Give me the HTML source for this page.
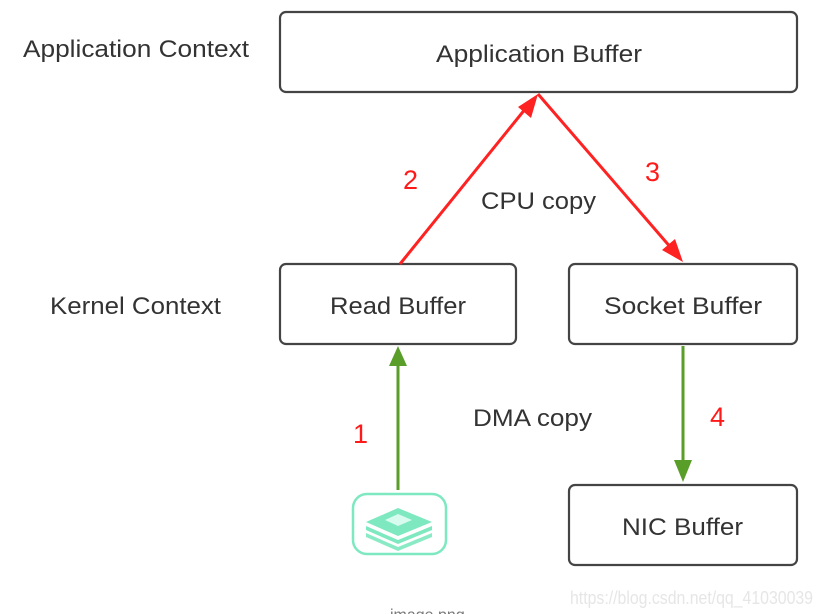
<!DOCTYPE html>
<html><head><meta charset="utf-8"><style>
html,body{margin:0;padding:0;background:#fff;}
svg{display:block}
text{font-family:"Liberation Sans",sans-serif;}
</style></head><body>
<svg width="822" height="614" viewBox="0 0 822 614" xmlns="http://www.w3.org/2000/svg">
<rect width="822" height="614" fill="#fff"/>
<g fill="none" stroke="#444" stroke-width="2.2">
<rect x="280" y="12" width="517" height="80" rx="6"/>
<rect x="280" y="264" width="236" height="80" rx="6"/>
<rect x="569" y="264" width="228" height="80" rx="6"/>
<rect x="569" y="485" width="228" height="80" rx="6"/>
</g>
<g font-size="24" fill="#333" lengthAdjust="spacingAndGlyphs">
<text x="436" y="62" textLength="206" lengthAdjust="spacingAndGlyphs">Application Buffer</text>
<text x="330" y="314" textLength="136" lengthAdjust="spacingAndGlyphs">Read Buffer</text>
<text x="604" y="314" textLength="158" lengthAdjust="spacingAndGlyphs">Socket Buffer</text>
<text x="622" y="535" textLength="121" lengthAdjust="spacingAndGlyphs">NIC Buffer</text>
<text x="23" y="57" textLength="226" lengthAdjust="spacingAndGlyphs">Application Context</text>
<text x="50" y="314" textLength="171" lengthAdjust="spacingAndGlyphs">Kernel Context</text>
<text x="481" y="209" textLength="115" lengthAdjust="spacingAndGlyphs">CPU copy</text>
<text x="473" y="426" textLength="119" lengthAdjust="spacingAndGlyphs">DMA copy</text>
</g>
<g font-size="27" fill="#ff1a1a">
<text x="403" y="189">2</text>
<text x="645" y="181">3</text>
<text x="353" y="443">1</text>
<text x="710" y="426">4</text>
</g>
<g stroke="#ff2222" stroke-width="3" fill="none">
<line x1="400" y1="264" x2="526" y2="108"/>
<line x1="538" y1="94" x2="672" y2="249"/>
</g>
<polygon points="538,94 531,118 518,107" fill="#ff2222"/>
<polygon points="683,262 662,250 675,239" fill="#ff2222"/>
<g stroke="#5a9e2a" stroke-width="3">
<line x1="398" y1="490" x2="398" y2="364"/>
<line x1="683" y1="346" x2="683" y2="462"/>
</g>
<polygon points="398,346 389,366 407,366" fill="#5a9e2a"/>
<polygon points="683,482 674,460 692,460" fill="#5a9e2a"/>
<rect x="353" y="494" width="93" height="60" rx="14" fill="none" stroke="#7ee8c0" stroke-width="2.5"/>
<g fill="#7ee8c0">
<polygon points="366,522 398,508 432,522 398,536"/>
<polygon points="366,526 398,540 432,526 432,530 398,544 366,530"/>
<polygon points="366,533 398,547 432,533 432,537 398,551 366,537" opacity="0.9"/>
</g>
<polygon points="385,520 398,514 412,520 398,526" fill="#d8fbef"/>
<text x="390" y="620" font-size="16" fill="#777">image.png</text>
<text x="570" y="604" font-size="18" fill="#e6e6e6" textLength="243" lengthAdjust="spacingAndGlyphs">https://blog.csdn.net/qq_41030039</text>
</svg>
</body></html>
